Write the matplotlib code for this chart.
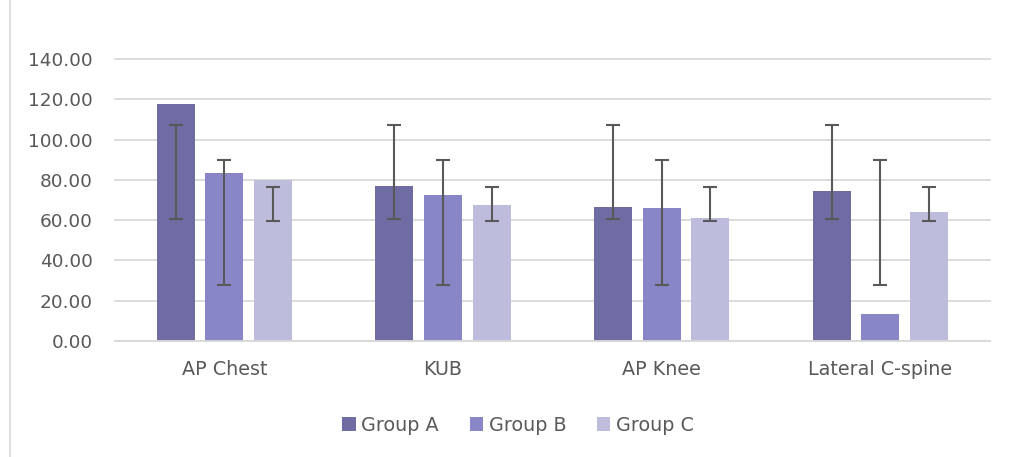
import matplotlib
matplotlib.use('Agg')
import matplotlib.pyplot as plt
import numpy as np

categories = ['AP Chest', 'KUB', 'AP Knee', 'Lateral C-spine']
groups = ['Group A', 'Group B', 'Group C']

group_a = [117.8, 77.1, 66.3, 74.4]
group_b = [83.4, 72.5, 66.2, 13.3]
group_c = [79.8, 67.5, 60.9, 64.0]

# error bar ranges (same for every category in the original)
err_low = [60.7, 27.9, 59.8]
err_high = [107.1, 90.1, 76.5]

colors = ['#6F6CA3', '#8886C6', '#BDBCDD']
text_col = '#595959'
grid_col = '#D9D9D9'

fig = plt.figure(figsize=(10.12, 4.57), dpi=100)
ax = fig.add_axes([0.1136, 0.2538, 0.8644, 0.6171])

x = np.arange(len(categories))
width = 0.174
pitch = 0.222
series = [group_a, group_b, group_c]
for i, vals in enumerate(series):
    xpos = x + (i - 1) * pitch
    ax.bar(xpos, vals, width, color=colors[i], label=groups[i], zorder=2)
    lo, hi = err_low[i], err_high[i]
    mid = np.full(len(x), (lo + hi) / 2)
    ax.errorbar(xpos, mid, yerr=(hi - lo) / 2, fmt='none', ecolor='#595959',
                elinewidth=1.5, capsize=4.7, capthick=1.5, zorder=3)

ax.set_ylim(0, 140)
ax.set_xlim(-0.5, len(categories) - 0.5)
ax.set_yticks(np.arange(0, 141, 20))
ax.set_yticklabels([f'{v:.2f}' for v in np.arange(0, 141, 20)])
ax.set_xticks(x)
ax.set_xticklabels(categories)
ax.yaxis.grid(True, color=grid_col, linewidth=1.3, zorder=0)
for gl in ax.get_ygridlines():
    gl.set_clip_on(False)
ax.set_axisbelow(True)
for s in ['top', 'right', 'left']:
    ax.spines[s].set_visible(False)
ax.spines['bottom'].set_color(grid_col)
ax.spines['bottom'].set_linewidth(1.3)
ax.tick_params(axis='y', length=0, labelsize=13.3, colors=text_col, pad=16)
ax.tick_params(axis='x', length=0, labelsize=13.8, colors=text_col, pad=14)

fig.legend(loc='center', bbox_to_anchor=(0.512, 0.07), ncol=3, frameon=False,
           fontsize=13.8, labelcolor=text_col, handlelength=0.7, handleheight=0.7,
           handletextpad=0.3, columnspacing=1.6)

# chart area border on the left
fig.add_artist(plt.Line2D([10 / 1012, 10 / 1012], [0, 1], color=grid_col,
                          linewidth=1.2, transform=fig.transFigure))

fig.savefig('out.png', dpi=100)
